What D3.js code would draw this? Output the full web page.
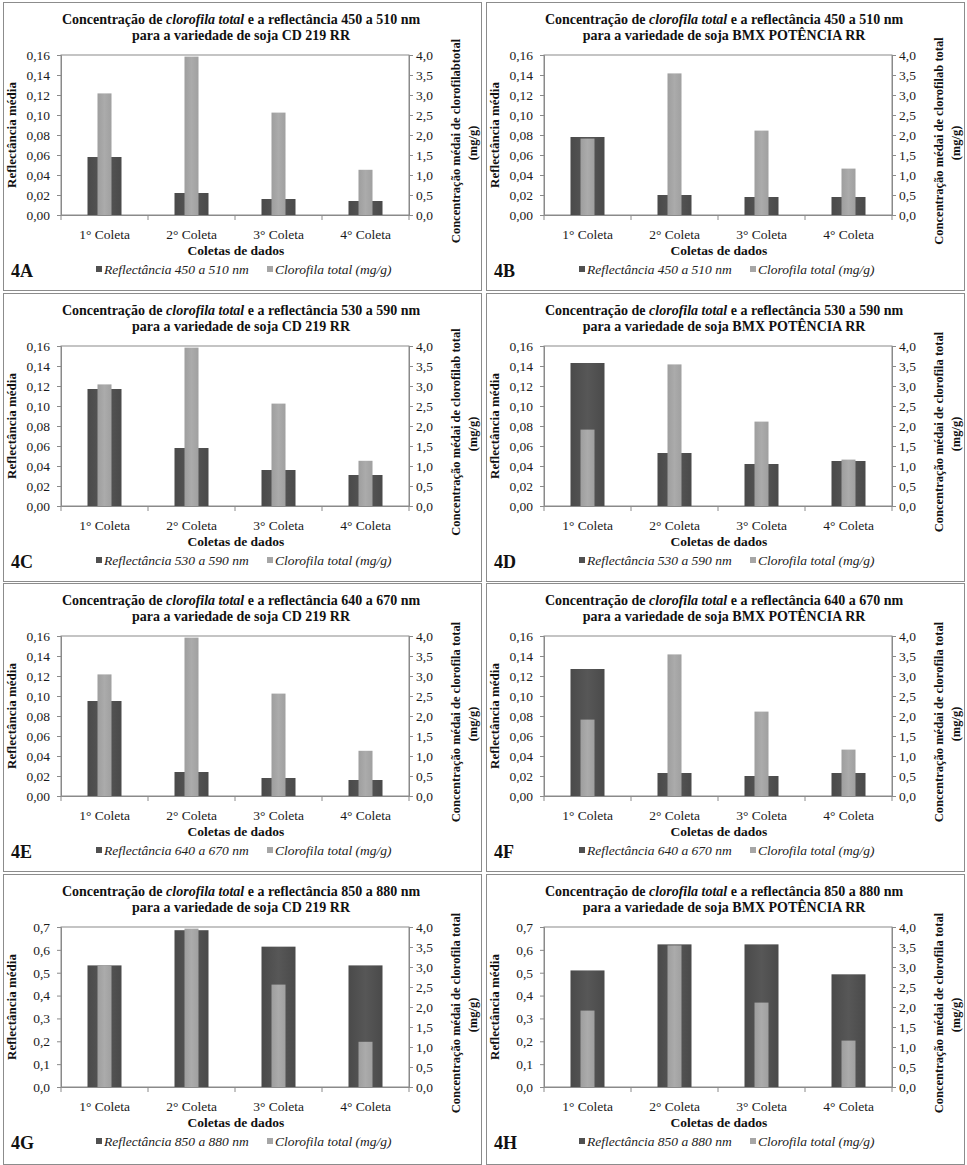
<!DOCTYPE html>
<html><head><meta charset="utf-8">
<script src="https://cdn.jsdelivr.net/npm/d3@7"></script>
<style>
body{margin:0;background:#fff;}
svg, svg text{font-family:"Liberation Serif","Times New Roman",Times,serif;}
</style></head>
<body>
<svg id="c" width="967" height="1165"></svg>
<script>
const categories = ["1° Coleta","2° Coleta","3° Coleta","4° Coleta"];
const chlCD  = [3.04, 3.96, 2.56, 1.13];
const chlBMX = [1.91, 3.54, 2.11, 1.16];
const refl450CD  = [0.058, 0.022, 0.016, 0.014];
const refl450BMX = [0.078, 0.020, 0.018, 0.018];
const refl530CD  = [0.117, 0.058, 0.036, 0.031];
const refl530BMX = [0.143, 0.053, 0.042, 0.045];
const refl640CD  = [0.095, 0.024, 0.018, 0.016];
const refl640BMX = [0.127, 0.023, 0.020, 0.023];
const refl850CD  = [0.532, 0.686, 0.614, 0.532];
const refl850BMX = [0.510, 0.624, 0.624, 0.493];
const leftTicksVis = [0, 0.02, 0.04, 0.06, 0.08, 0.10, 0.12, 0.14, 0.16];
const leftTicksNIR = [0, 0.1, 0.2, 0.3, 0.4, 0.5, 0.6, 0.7];
const rightTicks = [0, 0.5, 1.0, 1.5, 2.0, 2.5, 3.0, 3.5, 4.0];
const panelLabels = ["4A","4B","4C","4D","4E","4F","4G","4H"];
const bands = ["450 a 510","450 a 510","530 a 590","530 a 590","640 a 670","640 a 670","850 a 880","850 a 880"];
const varieties = ["CD 219 RR","BMX POTÊNCIA RR","CD 219 RR","BMX POTÊNCIA RR","CD 219 RR","BMX POTÊNCIA RR","CD 219 RR","BMX POTÊNCIA RR"];
const rightTitles = [
  "Concentração médai de clorofilabtotal",
  "Concentração médai de clorofilab total",
  "Concentração médai de clorofilab total",
  "Concentração médai de clorofila total",
  "Concentração médai de clorofila  total",
  "Concentração médai de clorofila  total",
  "Concentração médai de clorofila  total",
  "Concentração médai de clorofila  total"
];
const reflSeries = [refl450CD, refl450BMX, refl530CD, refl530BMX, refl640CD, refl640BMX, refl850CD, refl850BMX];
const chlSeries = [chlCD, chlBMX, chlCD, chlBMX, chlCD, chlBMX, chlCD, chlBMX];

const FONT = "Liberation Serif, Times New Roman, Times, serif";
const svg = d3.select("#c").attr("font-family", FONT);
const defs = svg.append("defs");
function grad(id, stops){
  const g = defs.append("linearGradient").attr("id", id).attr("x1","0").attr("x2","1").attr("y1","0").attr("y2","0");
  stops.forEach(s => g.append("stop").attr("offset", s[0]).attr("stop-color", s[1]));
}
grad("gDark", [[0,"#4a4a4a"],[0.5,"#575757"],[1,"#4a4a4a"]]);
grad("gLight", [[0,"#9e9e9e"],[0.5,"#ababab"],[1,"#a0a0a0"]]);

const colX = [0, 483];
const rowY = [0, 291, 581, 872];
const rowH = [288, 288, 288, 290];
const axisCol = "#8a8a8a";

for (let i = 0; i < 8; i++) {
  const x0 = colX[i % 2], y0 = rowY[Math.floor(i / 2)], h = rowH[Math.floor(i / 2)];
  const g = svg.append("g").attr("transform", `translate(${x0},${y0})`).attr("font-family", FONT);
  g.append("rect").attr("x", 3.5).attr("y", 2.5).attr("width", 478).attr("height", h)
    .attr("fill", "#fff").attr("stroke", "#8c8c8c").attr("stroke-width", 1);

  const L = 61, R = 409, T = 55, B = 215;
  const nir = i >= 6;
  const x = d3.scaleBand().domain(categories).range([L, R]);
  const yL = d3.scaleLinear().domain([0, nir ? 0.7 : 0.16]).range([B, T]);
  const yR = d3.scaleLinear().domain([0, 4]).range([B, T]);

  // title
  const t1 = g.append("text").attr("x", 241).attr("y", 24).attr("text-anchor", "middle")
    .attr("font-family", FONT).attr("font-weight", "bold").attr("font-size", 14).attr("fill", "#111");
  t1.append("tspan").text("Concentração de ");
  t1.append("tspan").attr("font-style", "italic").text("clorofila total");
  t1.append("tspan").text(" e a reflectância " + bands[i] + " nm");
  g.append("text").attr("x", 241).attr("y", 40).attr("text-anchor", "middle")
    .attr("font-family", FONT).attr("font-weight", "bold").attr("font-size", 14).attr("fill", "#111")
    .text("para a variedade de soja " + varieties[i]);

  // plot border
  g.append("rect").attr("x", L).attr("y", T).attr("width", R - L).attr("height", B - T)
    .attr("fill", "none").attr("stroke", axisCol).attr("stroke-width", 1);

  // bars
  const dw = 34, lw = 14;
  g.selectAll(".d").data(reflSeries[i]).enter().append("rect")
    .attr("x", (d, k) => x(categories[k]) + x.bandwidth() / 2 - dw / 2)
    .attr("y", d => yL(d)).attr("width", dw).attr("height", d => B - yL(d))
    .attr("fill", "url(#gDark)");
  g.selectAll(".l").data(chlSeries[i]).enter().append("rect")
    .attr("x", (d, k) => x(categories[k]) + x.bandwidth() / 2 - lw / 2)
    .attr("y", d => yR(d)).attr("width", lw).attr("height", d => B - yR(d))
    .attr("fill", "url(#gLight)");

  // axes
  const fmtL = nir ? (v => d3.format(".1f")(v).replace(".", ",")) : (v => d3.format(".2f")(v).replace(".", ","));
  const fmtR = v => d3.format(".1f")(v).replace(".", ",");
  const aL = g.append("g").attr("transform", `translate(${L},0)`)
    .call(d3.axisLeft(yL).tickValues(nir ? leftTicksNIR : leftTicksVis).tickFormat(fmtL).tickSize(4).tickPadding(7));
  const aR = g.append("g").attr("transform", `translate(${R},0)`)
    .call(d3.axisRight(yR).tickValues(rightTicks).tickFormat(fmtR).tickSize(4).tickPadding(3));
  const aX = g.append("g").attr("transform", `translate(0,${B})`)
    .call(d3.axisBottom(x).tickSize(0).tickPadding(14));
  [aL, aR, aX].forEach(a => {
    a.attr("font-family", FONT);
    a.selectAll("path").attr("stroke", axisCol);
    a.selectAll("line").attr("stroke", axisCol);
    a.selectAll("text").attr("font-family", FONT).attr("font-size", 13.5).attr("fill", "#1a1a1a");
  });
  const bounds = categories.map(c => x(c)).concat([R]);
  g.selectAll(".bt").data(bounds).enter().append("line")
    .attr("x1", d => d).attr("x2", d => d).attr("y1", B).attr("y2", B + 5)
    .attr("stroke", axisCol);

  // axis titles
  g.append("text").attr("x", 236).attr("y", 255).attr("text-anchor", "middle")
    .attr("font-family", FONT).attr("font-weight", "bold").attr("font-size", 13.5).attr("fill", "#111").text("Coletas de dados");
  g.append("text").attr("transform", `translate(16,${(T + B) / 2}) rotate(-90)`).attr("text-anchor", "middle")
    .attr("font-family", FONT).attr("font-weight", "bold").attr("font-size", 13).attr("fill", "#111").text("Reflectância média");
  g.append("text").attr("transform", `translate(460,141) rotate(-90)`).attr("text-anchor", "middle")
    .attr("font-family", FONT).attr("font-weight", "bold").attr("font-size", 12.5).attr("fill", "#111").text(rightTitles[i]);
  g.append("text").attr("transform", `translate(477,143) rotate(-90)`).attr("text-anchor", "middle")
    .attr("font-family", FONT).attr("font-weight", "bold").attr("font-size", 12.5).attr("fill", "#111").text("(mg/g)");

  // legend
  const ly = 270;
  g.append("rect").attr("x", 96).attr("y", ly - 4).attr("width", 6).attr("height", 6).attr("fill", "#505050");
  g.append("text").attr("x", 104).attr("y", ly + 4).attr("font-family", FONT).attr("font-style", "italic").attr("font-size", 13.5)
    .attr("fill", "#222").text("Reflectância " + bands[i] + " nm");
  g.append("rect").attr("x", 267).attr("y", ly - 4).attr("width", 6).attr("height", 6).attr("fill", "#a6a6a6");
  g.append("text").attr("x", 275).attr("y", ly + 4).attr("font-family", FONT).attr("font-style", "italic").attr("font-size", 13.5)
    .attr("fill", "#222").text("Clorofila total (mg/g)");

  // panel label
  g.append("text").attr("x", 11).attr("y", 277).attr("font-family", FONT).attr("font-weight", "bold").attr("font-size", 18)
    .attr("fill", "#111").text(panelLabels[i]);
}
</script>
</body></html>
